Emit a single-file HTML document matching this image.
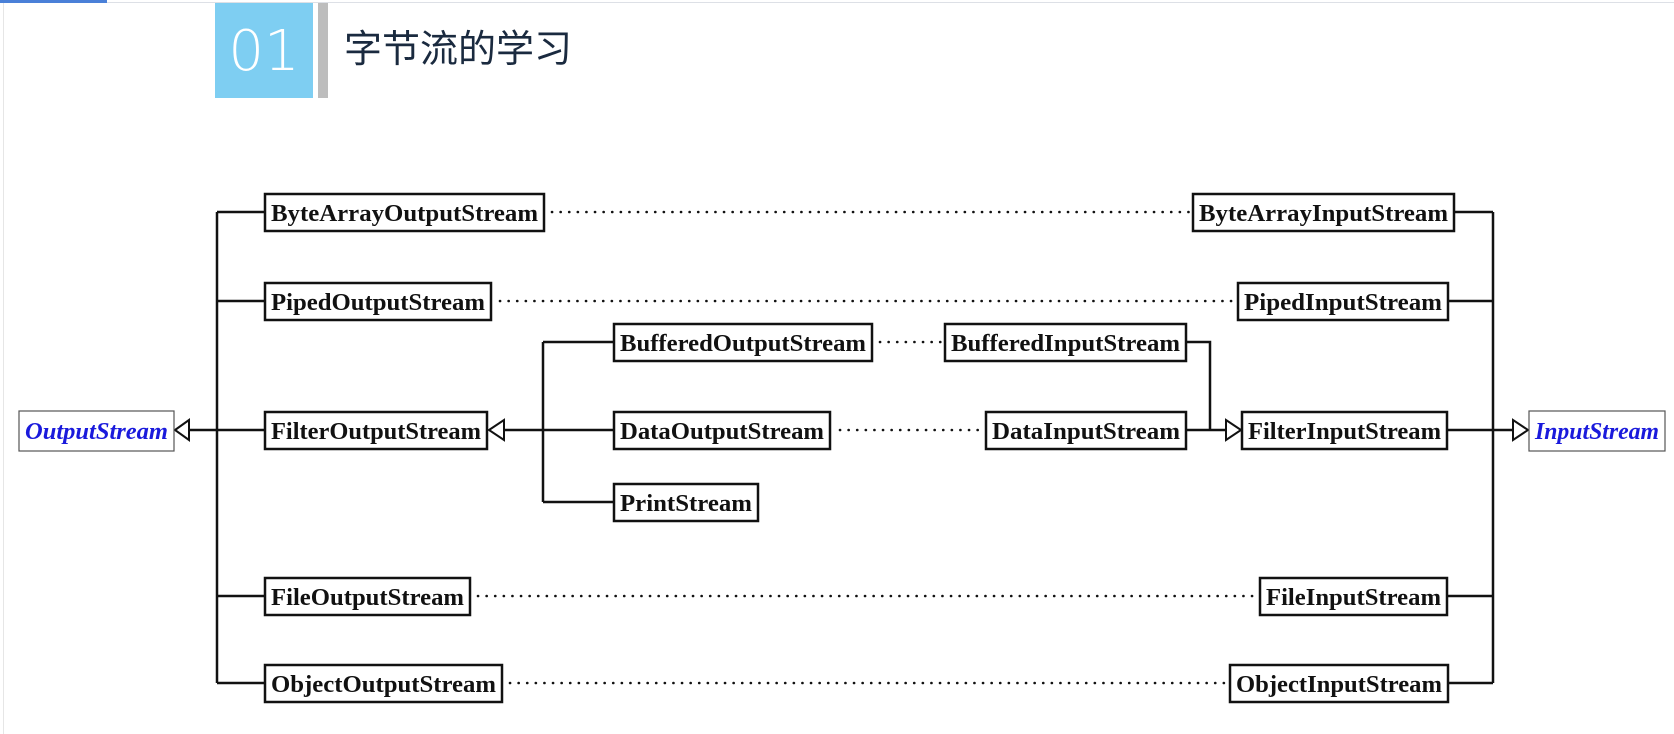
<!DOCTYPE html>
<html><head><meta charset="utf-8"><style>
html,body{margin:0;padding:0;background:#fff;}
body{width:1674px;height:734px;overflow:hidden;position:relative;}
</style></head><body>
<svg width="1674" height="734" viewBox="0 0 1674 734" xmlns="http://www.w3.org/2000/svg" style="position:absolute;left:0;top:0">
<rect x="0" y="0" width="1674" height="734" fill="#fff"/>
<rect x="0" y="2" width="1674" height="1" fill="#dde0e6"/>
<rect x="0" y="0" width="107" height="3" fill="#4a80d8"/>
<rect x="3" y="3" width="1" height="731" fill="#e6e6e6"/>
<!-- title -->
<rect x="215" y="3" width="98" height="95" fill="#7ecef2"/>
<rect x="318" y="3" width="10" height="95" fill="#bdbdbd"/>
<text x="264" y="70" text-anchor="middle" font-family="'DejaVu Sans','Liberation Sans',sans-serif" font-weight="200" font-size="56" fill="#fff" style="font-weight:100">01</text>
<text x="344" y="62" font-family="'Liberation Sans','Noto Sans CJK SC',sans-serif" font-size="38" fill="#1a2a3f">字节流的学习</text>

<g stroke="#111" stroke-width="2.5" fill="none">
<!-- left trunk -->
<line x1="217" y1="212" x2="217" y2="683"/>
<line x1="217" y1="212" x2="265" y2="212"/>
<line x1="217" y1="301" x2="265" y2="301"/>
<line x1="189" y1="430" x2="265" y2="430"/>
<line x1="217" y1="596" x2="265" y2="596"/>
<line x1="217" y1="683" x2="265" y2="683"/>
<!-- filter out trunk -->
<line x1="543" y1="342" x2="543" y2="502"/>
<line x1="504" y1="430" x2="614" y2="430"/>
<line x1="543" y1="342" x2="614" y2="342"/>
<line x1="543" y1="502" x2="614" y2="502"/>
<!-- filter in -->
<polyline points="1186,342 1210,342 1210,430"/>
<line x1="1186" y1="430" x2="1226" y2="430"/>
<!-- right trunk -->
<line x1="1493" y1="212" x2="1493" y2="683"/>
<line x1="1454" y1="212" x2="1493" y2="212"/>
<line x1="1448" y1="301" x2="1493" y2="301"/>
<line x1="1447" y1="430" x2="1513" y2="430"/>
<line x1="1447" y1="596" x2="1493" y2="596"/>
<line x1="1448" y1="683" x2="1493" y2="683"/>
</g>
<!-- triangles -->
<g stroke="#111" stroke-width="2" fill="#fff">
<polygon points="175,430 189,420 189,440"/>
<polygon points="489,430 504,420 504,440"/>
<polygon points="1241,430 1226,420 1226,440"/>
<polygon points="1528,430 1513,420 1513,440"/>
</g>
<!-- dotted -->
<g stroke="#111" stroke-width="2.6" stroke-dasharray="0.1 8.5" stroke-linecap="round" fill="none">
<line x1="552" y1="212" x2="1190" y2="212"/>
<line x1="500" y1="301" x2="1235" y2="301"/>
<line x1="880" y1="342" x2="942" y2="342"/>
<line x1="840" y1="430" x2="983" y2="430"/>
<line x1="478" y1="596" x2="1257" y2="596"/>
<line x1="510" y1="683" x2="1227" y2="683"/>
</g>
<!-- boxes -->
<g stroke="#111" stroke-width="2.5" fill="#fff">
<rect x="265" y="194" width="279" height="37"/>
<rect x="265" y="283" width="226" height="37"/>
<rect x="265" y="412" width="222" height="37"/>
<rect x="265" y="578" width="205" height="37"/>
<rect x="265" y="665" width="237" height="37"/>
<rect x="614" y="324" width="258" height="37"/>
<rect x="614" y="412" width="216" height="37"/>
<rect x="614" y="484" width="144" height="37"/>
<rect x="945" y="324" width="241" height="37"/>
<rect x="986" y="412" width="200" height="37"/>
<rect x="1193" y="194" width="261" height="37"/>
<rect x="1238" y="283" width="210" height="37"/>
<rect x="1242" y="412" width="205" height="37"/>
<rect x="1260" y="578" width="187" height="37"/>
<rect x="1230" y="665" width="218" height="37"/>
</g>
<g stroke="#555" stroke-width="1.2" fill="#fff">
<rect x="19" y="411" width="155" height="40"/>
<rect x="1529" y="411" width="136" height="40"/>
</g>
<g font-family="'Liberation Serif',serif" font-weight="bold" font-size="24" fill="#111" lengthAdjust="spacingAndGlyphs">
<text x="271" y="221" textLength="267" lengthAdjust="spacingAndGlyphs">ByteArrayOutputStream</text>
<text x="271" y="310" textLength="214" lengthAdjust="spacingAndGlyphs">PipedOutputStream</text>
<text x="271" y="439" textLength="210" lengthAdjust="spacingAndGlyphs">FilterOutputStream</text>
<text x="271" y="605" textLength="193" lengthAdjust="spacingAndGlyphs">FileOutputStream</text>
<text x="271" y="692" textLength="225" lengthAdjust="spacingAndGlyphs">ObjectOutputStream</text>
<text x="620" y="351" textLength="246" lengthAdjust="spacingAndGlyphs">BufferedOutputStream</text>
<text x="620" y="439" textLength="204" lengthAdjust="spacingAndGlyphs">DataOutputStream</text>
<text x="620" y="511" textLength="132" lengthAdjust="spacingAndGlyphs">PrintStream</text>
<text x="951" y="351" textLength="229" lengthAdjust="spacingAndGlyphs">BufferedInputStream</text>
<text x="992" y="439" textLength="188" lengthAdjust="spacingAndGlyphs">DataInputStream</text>
<text x="1199" y="221" textLength="249" lengthAdjust="spacingAndGlyphs">ByteArrayInputStream</text>
<text x="1244" y="310" textLength="198" lengthAdjust="spacingAndGlyphs">PipedInputStream</text>
<text x="1248" y="439" textLength="193" lengthAdjust="spacingAndGlyphs">FilterInputStream</text>
<text x="1266" y="605" textLength="175" lengthAdjust="spacingAndGlyphs">FileInputStream</text>
<text x="1236" y="692" textLength="206" lengthAdjust="spacingAndGlyphs">ObjectInputStream</text>
</g>
<g font-family="'Liberation Serif',serif" font-weight="bold" font-style="italic" font-size="24" fill="#1a1adc">
<text x="25" y="439" textLength="143" lengthAdjust="spacingAndGlyphs">OutputStream</text>
<text x="1535" y="439" textLength="124" lengthAdjust="spacingAndGlyphs">InputStream</text>
</g>
</svg>
</body></html>
